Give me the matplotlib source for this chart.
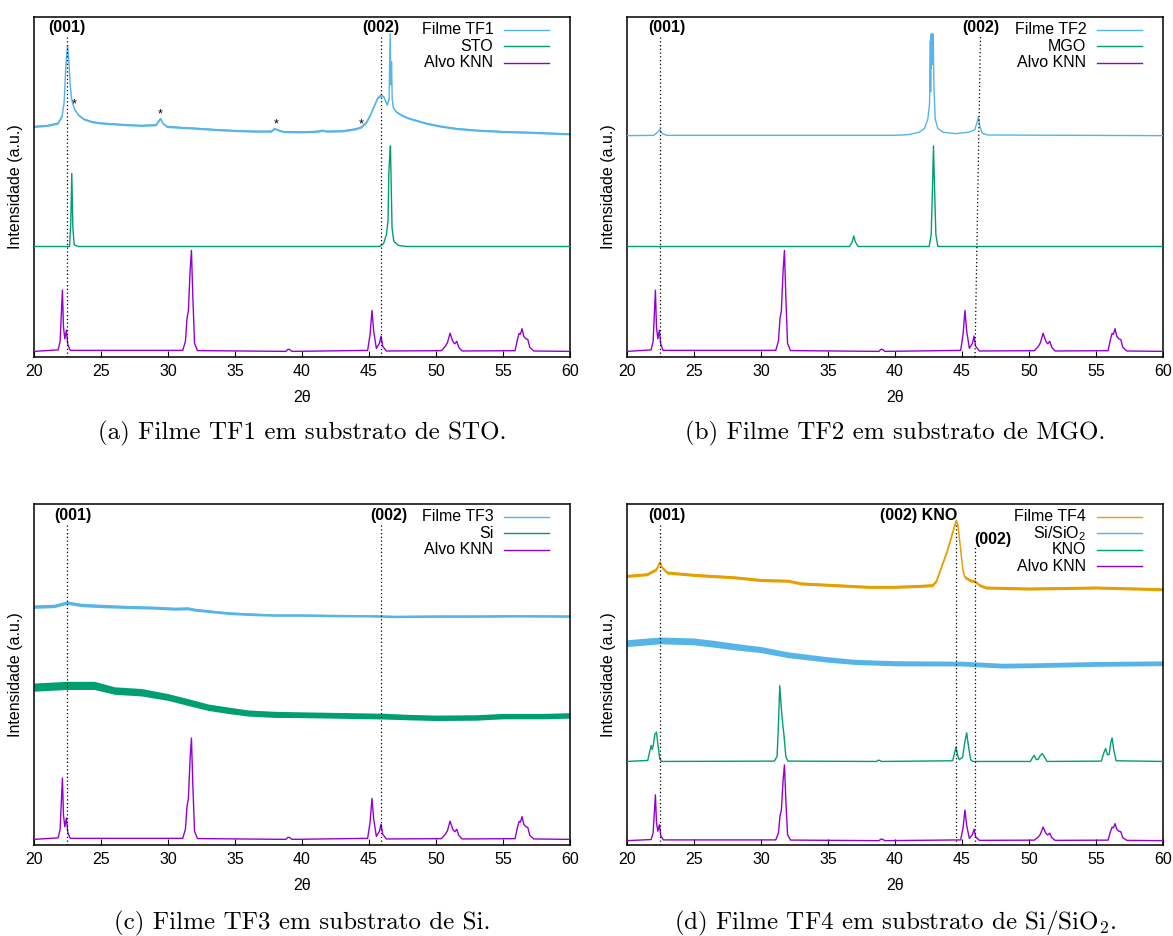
import numpy as np
import matplotlib
matplotlib.use('Agg')
import matplotlib.pyplot as plt

plt.rcParams['font.family'] = ['Liberation Sans', 'DejaVu Sans']
plt.rcParams['mathtext.fontset'] = 'custom'
plt.rcParams['mathtext.rm'] = 'Liberation Sans'
plt.rcParams['mathtext.it'] = 'Liberation Sans:italic'

C_BLUE = '#56b4e9'
C_GREEN = '#009e73'
C_PURPLE = '#9400d3'
C_ORANGE = '#e69f00'

# ---------------- data (2theta, normalised intensity) -------------
XTICKS = [20, 25, 30, 35, 40, 45, 50, 55, 60]

# KNN target pattern (relative to strongest peak = 1)
KNN_X = [20.0, 21.8, 21.95, 22.05, 22.12, 22.2, 22.3, 22.42, 22.52, 22.7,
         31.1, 31.3, 31.42, 31.52, 31.65, 31.75, 31.85, 31.98, 32.2,
         38.8, 38.95, 39.05, 39.25,
         44.9, 45.08, 45.22, 45.35, 45.55, 45.78, 45.9, 46.02, 46.3,
         50.4, 50.7, 50.85, 51.05, 51.25, 51.4, 51.55, 51.7, 51.95,
         55.9, 56.08, 56.2, 56.3, 56.42, 56.55, 56.7, 56.85, 57.0, 57.3, 60.0]
KNN_Y = [0.0, 0.015, 0.10, 0.40, 0.606, 0.24, 0.125, 0.21, 0.07, 0.01,
         0.01, 0.10, 0.33, 0.40, 0.80, 1.0, 0.55, 0.08, 0.008,
         0.0, 0.02, 0.02, 0.0,
         0.01, 0.17, 0.405, 0.20, 0.03, 0.08, 0.152, 0.05, 0.004,
         0.007, 0.05, 0.085, 0.18, 0.10, 0.075, 0.10, 0.04, 0.004,
         0.007, 0.12, 0.178, 0.17, 0.225, 0.15, 0.125, 0.118, 0.04, 0.004, 0.0]
KNN_BASE = [0.0165, 0.0165, 0.0165, 0.0127]   # panels a, b, c, d
KNN_SCALE = [0.297, 0.297, 0.297, 0.222]

# (a) film TF1 and STO substrate
TF1_X = [20.0, 21.0, 21.8, 22.1, 22.25, 22.38, 22.5, 22.6, 22.7, 22.8, 23.0, 23.3, 23.7,
         24.3, 25.0, 26.5, 28.0, 29.1, 29.35, 29.45, 29.6, 29.9, 31.0, 32.0, 33.5,
         35.0, 36.5, 37.7, 37.95, 38.2, 38.6, 40.0, 41.2, 41.5, 41.8, 43.0, 44.0,
         44.4, 44.8, 45.1, 45.4, 45.65, 45.9, 46.1, 46.35, 46.5, 46.58, 46.63, 46.68,
         46.73, 46.8, 47.0, 47.4, 47.9, 48.5, 49.3, 50.3, 51.5, 53.0, 55.0, 57.5, 60.0]
TF1_Y = [0.678, 0.681, 0.688, 0.710, 0.750, 0.860, 0.915, 0.870, 0.800, 0.760, 0.730, 0.712, 0.700,
         0.692, 0.688, 0.684, 0.681, 0.683, 0.697, 0.701, 0.688, 0.678, 0.675, 0.673, 0.669,
         0.666, 0.664, 0.664, 0.672, 0.668, 0.663, 0.662, 0.664, 0.667, 0.664, 0.665, 0.671,
         0.676, 0.690, 0.712, 0.740, 0.762, 0.771, 0.765, 0.742, 0.760, 0.951, 0.800, 0.868,
         0.760, 0.735, 0.722, 0.712, 0.703, 0.696, 0.687, 0.679, 0.672, 0.667, 0.663, 0.660, 0.656]
STO_X = [20.0, 22.65, 22.75, 22.82, 22.9, 23.0, 23.3, 45.8, 46.1, 46.3, 46.42, 46.48,
         46.53, 46.6, 46.66, 46.72, 46.85, 47.2, 47.8, 60.0]
STO_Y = [0.325, 0.325, 0.400, 0.540, 0.380, 0.330, 0.325, 0.325, 0.335, 0.360, 0.400, 0.540,
         0.580, 0.621, 0.500, 0.380, 0.340, 0.328, 0.325, 0.325]
STAR_X = [22.97, 29.45, 38.08, 44.4]
STAR_Y = [0.742, 0.712, 0.683, 0.683]

# (b) film TF2 and MgO substrate
TF2_X = [20.0, 22.0, 22.25, 22.45, 22.65, 22.95, 40.0, 41.0, 41.8, 42.2, 42.45, 42.58,
         42.64, 42.66, 42.68, 42.70, 42.72, 42.74, 42.76, 42.78, 42.80, 42.82, 42.84,
         42.86, 42.9, 43.0, 43.2, 43.6, 44.5, 45.5, 45.95, 46.12, 46.22, 46.32, 46.5,
         46.9, 60.0]
TF2_Y = [0.651, 0.652, 0.660, 0.669, 0.657, 0.652, 0.652, 0.654, 0.661, 0.672, 0.700, 0.745,
         0.930, 0.780, 0.947, 0.850, 0.950, 0.870, 0.950, 0.860, 0.950, 0.900, 0.950,
         0.930, 0.800, 0.700, 0.672, 0.661, 0.657, 0.661, 0.668, 0.690, 0.706, 0.680, 0.659,
         0.653, 0.651]
MGO_X = [20.0, 36.6, 36.8, 36.92, 37.05, 37.25, 42.55, 42.7, 42.8, 42.87, 42.95, 43.05,
         43.2, 60.0]
MGO_Y = [0.325, 0.325, 0.338, 0.356, 0.338, 0.325, 0.325, 0.360, 0.500, 0.621, 0.500, 0.360,
         0.325, 0.325]

# (c) film TF3 and Si substrate (noisy: centre line + half width of the noise band)
TF3_X = [20.0, 21.5, 22.45, 23.5, 25.0, 27.0, 29.0, 30.5, 31.5, 32.0, 33.0, 34.5, 36.0,
         38.0, 40.0, 42.0, 45.0, 47.0, 50.0, 53.0, 56.0, 60.0]
TF3_Y = [0.699, 0.701, 0.711, 0.704, 0.701, 0.698, 0.696, 0.693, 0.694, 0.690, 0.686, 0.680,
         0.677, 0.674, 0.674, 0.673, 0.672, 0.670, 0.671, 0.671, 0.672, 0.671]
TF3_N = [0.005, 0.005, 0.005, 0.005, 0.005, 0.0045, 0.0045, 0.0045, 0.0045, 0.0045, 0.004,
         0.004, 0.004, 0.0035, 0.0035, 0.0035, 0.0035, 0.0035, 0.0035, 0.0035, 0.0035, 0.0035]
SI_X = [20.0, 22.45, 24.5, 26.0, 28.0, 30.0, 31.5, 33.0, 34.5, 36.0, 38.0, 40.0, 43.0, 46.0,
        48.0, 50.0, 53.0, 55.0, 58.0, 60.0]
SI_Y = [0.463, 0.468, 0.468, 0.453, 0.448, 0.434, 0.419, 0.404, 0.395, 0.387, 0.383, 0.382,
        0.380, 0.378, 0.375, 0.373, 0.374, 0.378, 0.378, 0.380]
SI_N = [0.012, 0.012, 0.012, 0.011, 0.011, 0.010, 0.010, 0.0095, 0.0095, 0.009, 0.009, 0.0085,
        0.0085, 0.0085, 0.008, 0.008, 0.008, 0.008, 0.008, 0.008]

# (d) film TF4, Si/SiO2 substrate and KNO
TF4_X = [20.0, 21.5, 22.2, 22.45, 22.6, 23.0, 25.0, 28.0, 30.0, 32.0, 33.0, 35.0, 38.0, 40.0,
         42.0, 42.8, 43.1, 43.5, 43.9, 44.25, 44.45, 44.58, 44.7, 44.9, 45.05, 45.2, 45.6,
         45.95, 46.3, 46.8, 50.0, 55.0, 60.0]
TF4_Y = [0.789, 0.794, 0.809, 0.830, 0.814, 0.799, 0.792, 0.785, 0.777, 0.775, 0.767, 0.763,
         0.757, 0.757, 0.760, 0.762, 0.775, 0.820, 0.863, 0.910, 0.938, 0.952, 0.935, 0.865,
         0.810, 0.786, 0.776, 0.774, 0.762, 0.755, 0.752, 0.755, 0.750]
SIO2_X = [20.0, 22.5, 25.0, 26.5, 28.0, 30.0, 32.0, 35.0, 37.0, 40.0, 45.0, 48.0, 50.0,
          55.0, 60.0]
SIO2_Y = [0.592, 0.600, 0.597, 0.590, 0.582, 0.573, 0.558, 0.544, 0.537, 0.533, 0.532, 0.526,
          0.527, 0.531, 0.533]
SIO2_N = [0.010, 0.010, 0.010, 0.010, 0.0095, 0.009, 0.0085, 0.008, 0.0075, 0.0075, 0.007,
          0.007, 0.007, 0.007, 0.007]
KNO_X = [20.0, 21.55, 21.7, 21.8, 21.88, 21.95, 22.08, 22.2, 22.32, 22.45, 22.6,
         31.0, 31.2, 31.3, 31.4, 31.52, 31.62, 31.72, 31.85, 32.0,
         38.6, 38.8, 39.0,
         44.3, 44.45, 44.55, 44.68, 44.8, 45.05, 45.2, 45.35, 45.5, 45.65, 45.8,
         50.1, 50.25, 50.38, 50.55, 50.7, 50.85, 51.0, 51.15, 51.35,
         55.4, 55.58, 55.72, 55.85, 55.98, 56.1, 56.2, 56.32, 56.5, 60.0]
KNO_Y = [0.245, 0.248, 0.275, 0.292, 0.280, 0.290, 0.325, 0.331, 0.290, 0.252, 0.245,
         0.246, 0.260, 0.350, 0.467, 0.400, 0.355, 0.320, 0.260, 0.246,
         0.245, 0.249, 0.245,
         0.247, 0.270, 0.287, 0.262, 0.250, 0.258, 0.300, 0.329, 0.285, 0.250, 0.245,
         0.245, 0.255, 0.263, 0.250, 0.252, 0.263, 0.268, 0.258, 0.245,
         0.246, 0.270, 0.283, 0.265, 0.265, 0.300, 0.314, 0.280, 0.247, 0.245]

TF1_NOISE = 0.003
TF4_NOISE = 0.0045

# ---------------- figure -------------
W, H = 1173, 936
fig = plt.figure(figsize=(W / 100, H / 100), dpi=100)


def make_axes(x0, x1, y0, y1):
    ax = fig.add_axes([x0 / W, 1 - y1 / H, (x1 - x0) / W, (y1 - y0) / H])
    ax.set_xlim(20, 60)
    ax.set_ylim(0, 1)
    ax.set_xticks(XTICKS)
    ax.tick_params(axis='x', direction='in', length=4, width=0.8, top=False,
                   labelsize=11.5, pad=5)
    ax.tick_params(axis='y', left=False, labelleft=False)
    for s in ax.spines.values():
        s.set_linewidth(1.1)
    ax.text(0.5, -0.118, '2θ', transform=ax.transAxes, ha='center', va='center',
            fontsize=11.5)
    ax.text(-0.034, 0.5, 'Intensidade (a.u.)', transform=ax.transAxes, rotation=90,
            ha='center', va='center', fontsize=11.5)
    return ax


axA = make_axes(34, 570, 17, 357)
axB = make_axes(627, 1163, 17, 357)
axC = make_axes(34, 570, 504, 845)
axD = make_axes(627, 1163, 504, 845)

LW = 1.0


def knn(ax, i):
    y = KNN_BASE[i] + KNN_SCALE[i] * np.array(KNN_Y)
    ax.plot(KNN_X, y, color=C_PURPLE, lw=LW, zorder=3)


def noisy(ax, x, y, n, color):
    x = np.array(x); y = np.array(y); n = np.array(n) * np.ones_like(y)
    ax.fill_between(x, y - n, y + n, color=color, lw=0, zorder=2)
    ax.plot(x, y, color=color, lw=LW, zorder=2)


def vline(ax, xb, xt, yt):
    ax.plot([xb, xt], [0, yt], color='black', lw=0.9, ls=(0, (1, 2)), zorder=4)


def label(ax, x, y, s, ha='center'):
    ax.text(x, y, s, ha=ha, va='center', fontsize=11.5, fontweight='bold', zorder=5)


def legend(ax, names, colors):
    ys = [0.963, 0.914, 0.866, 0.818]
    for nm, c, yy in zip(names, colors, ys):
        ax.text(0.857, yy, nm, transform=ax.transAxes, ha='right', va='center',
                fontsize=11.5)
        ax.plot([0.877, 0.960], [yy, yy], transform=ax.transAxes, color=c, lw=LW)


# (a)
noisy(axA, TF1_X, TF1_Y, TF1_NOISE, C_BLUE)
axA.plot(STO_X, STO_Y, color=C_GREEN, lw=LW, zorder=3)
knn(axA, 0)
for sx, sy in zip(STAR_X, STAR_Y):
    axA.text(sx, sy, '*', ha='center', va='center', fontsize=9, zorder=5)
vline(axA, 22.45, 22.45, 0.945)
vline(axA, 45.92, 45.92, 0.945)
label(axA, 22.45, 0.968, '(001)')
label(axA, 45.87, 0.968, '(002)')
legend(axA, ['Filme TF1', 'STO', 'Alvo KNN'], [C_BLUE, C_GREEN, C_PURPLE])

# (b)
axB.plot(TF2_X, TF2_Y, color=C_BLUE, lw=LW, zorder=3)
axB.plot(MGO_X, MGO_Y, color=C_GREEN, lw=LW, zorder=3)
knn(axB, 1)
vline(axB, 22.45, 22.45, 0.945)
vline(axB, 45.97, 46.38, 0.945)
label(axB, 22.95, 0.968, '(001)')
label(axB, 46.44, 0.968, '(002)')
legend(axB, ['Filme TF2', 'MGO', 'Alvo KNN'], [C_BLUE, C_GREEN, C_PURPLE])

# (c)
noisy(axC, TF3_X, TF3_Y, TF3_N, C_BLUE)
noisy(axC, SI_X, SI_Y, SI_N, C_GREEN)
knn(axC, 2)
vline(axC, 22.45, 22.45, 0.945)
vline(axC, 45.92, 45.92, 0.945)
label(axC, 22.9, 0.967, '(001)')
label(axC, 46.46, 0.967, '(002)')
legend(axC, ['Filme TF3', 'Si', 'Alvo KNN'], [C_BLUE, C_GREEN, C_PURPLE])

# (d)
noisy(axD, TF4_X, TF4_Y, TF4_NOISE, C_ORANGE)
noisy(axD, SIO2_X, SIO2_Y, SIO2_N, C_BLUE)
axD.plot(KNO_X, KNO_Y, color=C_GREEN, lw=LW, zorder=3)
knn(axD, 3)
vline(axD, 22.45, 22.45, 0.945)
vline(axD, 44.57, 44.57, 0.945)
vline(axD, 45.94, 45.94, 0.875)
label(axD, 22.95, 0.967, '(001)')
label(axD, 44.65, 0.967, '(002) KNO', ha='right')
label(axD, 45.95, 0.896, '(002)', ha='left')
legend(axD, ['Filme TF4', 'Si/SiO$_2$', 'KNO', 'Alvo KNN'],
       [C_ORANGE, C_BLUE, C_GREEN, C_PURPLE])

# captions
CAP = dict(ha='center', va='center', fontsize=18, family='cmr10', math_fontfamily='cm')
fig.text(302 / W, 1 - 433 / H, '(a) Filme TF1 em substrato de STO.', **CAP)
fig.text(895 / W, 1 - 433 / H, '(b) Filme TF2 em substrato de MGO.', **CAP)
fig.text(302 / W, 1 - 923 / H, '(c) Filme TF3 em substrato de Si.', **CAP)
fig.text(895 / W, 1 - 923 / H, '(d) Filme TF4 em substrato de Si/SiO$_2$.', **CAP)

fig.savefig('out.png', dpi=100)
